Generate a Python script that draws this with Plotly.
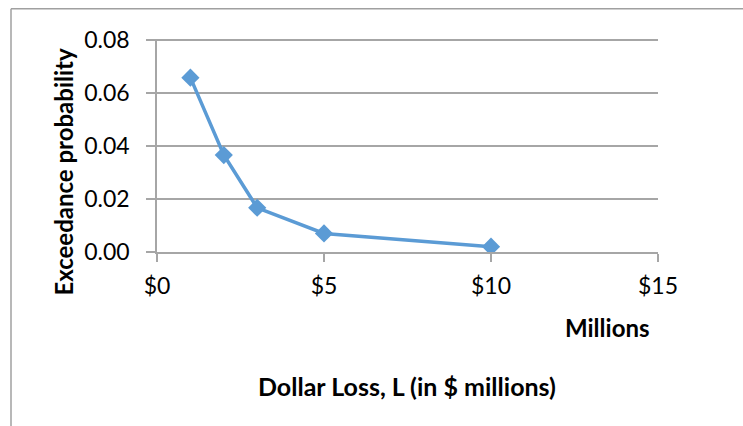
import plotly.graph_objects as go

loss_millions = [1, 2, 3, 5, 10]
exceed_prob = [0.0658, 0.0366, 0.0167, 0.0070, 0.0020]
x_tick_vals = [0, 5, 10, 15]
x_tick_text = ["$0", "$5", "$10", "$15"]
y_tick_vals = [0.00, 0.02, 0.04, 0.06, 0.08]

W, H = 743, 426
L, R, T, B = 157, 658, 40, 252  # plot area pixels

def px(x):
    return (x - L) / (R - L)

def py(y):
    return (B - y) / (B - T)

FONT = "Lato"
GRID = "#A6A6A6"
TITLE_SIZE = 24
TICK_SIZE = 23

fig = go.Figure()
fig.add_trace(go.Scatter(
    x=loss_millions, y=exceed_prob, mode="lines+markers",
    line=dict(color="#5B9BD5", width=3.5),
    marker=dict(symbol="diamond", size=14, color="#5B9BD5"),
    showlegend=False,
))

fig.update_layout(
    width=W, height=H,
    margin=dict(l=L, r=W - R, t=T - 1, b=H - B),
    paper_bgcolor="white", plot_bgcolor="white",
    font=dict(family=FONT, size=TICK_SIZE, color="black"),
    xaxis=dict(
        range=[0, 15], tickvals=x_tick_vals, ticktext=x_tick_text,
        showgrid=False, zeroline=False, showline=True, linecolor=GRID, linewidth=1.5,
        ticks="outside", ticklen=8, tickcolor=GRID, tickwidth=1.5,
        ticklabelstandoff=5,
        tickfont=dict(family=FONT, size=TICK_SIZE), fixedrange=True,
    ),
    yaxis=dict(
        range=[0, 0.0804], tickvals=y_tick_vals, tickformat=".2f",
        showgrid=True, gridcolor=GRID, gridwidth=1.5, zeroline=False,
        showline=True, linecolor=GRID, linewidth=1.5,
        ticks="outside", ticklen=9, tickcolor=GRID, tickwidth=1.5,
        ticklabelstandoff=12,
        tickfont=dict(family=FONT, size=TICK_SIZE), fixedrange=True,
    ),
    shapes=[
        dict(type="line", xref="paper", yref="paper", x0=px(11), x1=px(745), y0=py(10), y1=py(10),
             line=dict(color="#A0A0A0", width=1.5)),
        dict(type="line", xref="paper", yref="paper", x0=px(11), x1=px(11), y0=py(10), y1=py(430),
             line=dict(color="#A0A0A0", width=1.5)),
    ],
    annotations=[
        dict(text="<b>Exceedance probability</b>", xref="paper", yref="paper",
             x=px(64), y=py(172), textangle=-90, showarrow=False,
             font=dict(family=FONT, size=TITLE_SIZE), xanchor="center", yanchor="middle"),
        dict(text="<b>Millions</b>", xref="paper", yref="paper",
             x=px(607), y=py(327), showarrow=False,
             font=dict(family=FONT, size=TITLE_SIZE), xanchor="center", yanchor="middle"),
        dict(text="<b>Dollar Loss, L (in $ millions)</b>", xref="paper", yref="paper",
             x=px(407), y=py(385), showarrow=False,
             font=dict(family=FONT, size=25), xanchor="center", yanchor="middle"),
    ],
)

fig.write_html("out.html")
